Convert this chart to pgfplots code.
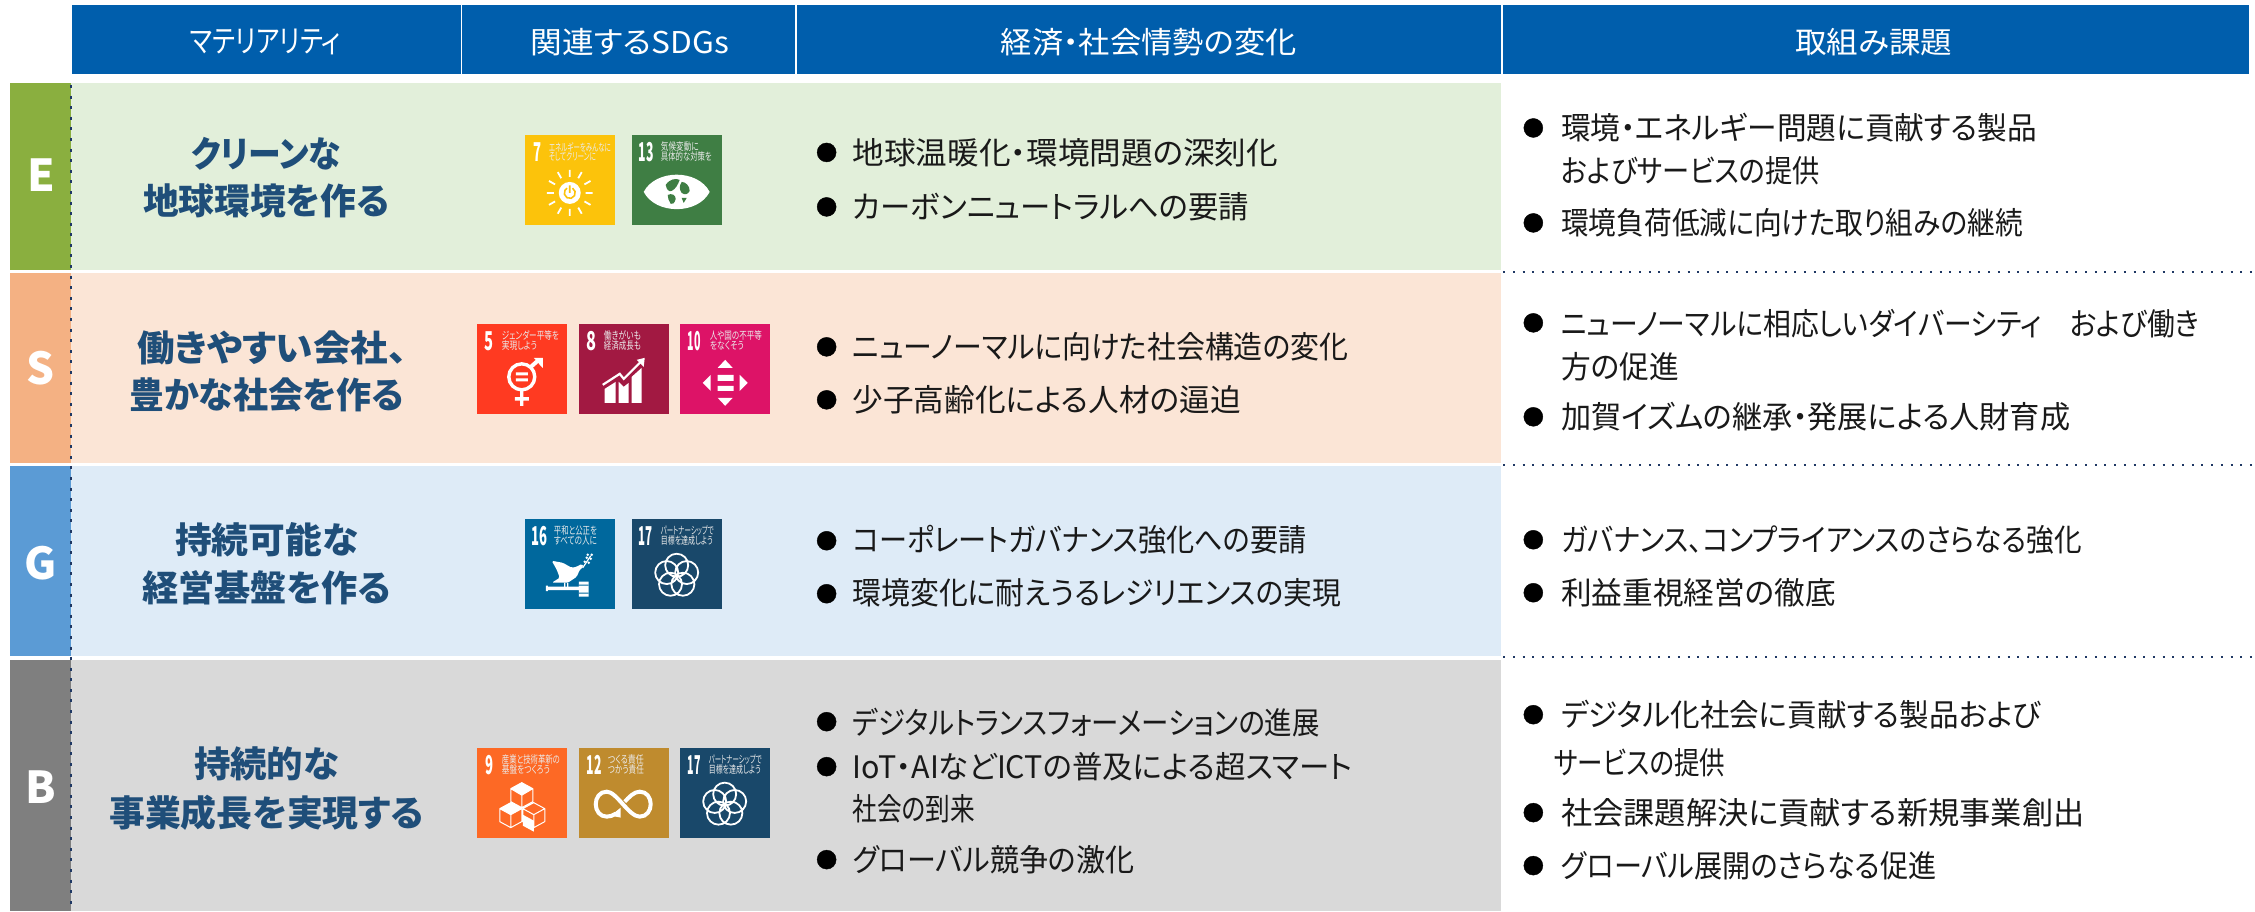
\documentclass[border=0pt]{standalone}
\usepackage{fontspec}
\usepackage{graphicx}
\usepackage{pgfplots}
\pgfplotsset{compat=1.18}
\setmainfont[RawFeature=+palt]{Noto Sans CJK JP}
\definecolor{hdr}{HTML}{005EAC}
\definecolor{navy}{HTML}{1F4E79}
\definecolor{dotc}{HTML}{1F3864}
\definecolor{cE}{HTML}{E2EFDA}\definecolor{cS}{HTML}{FBE5D6}\definecolor{cG}{HTML}{DEEBF7}\definecolor{cB}{HTML}{D9D9D9}
\definecolor{tE}{HTML}{8AAF3F}\definecolor{tS}{HTML}{F4B183}\definecolor{tG}{HTML}{5B9BD5}\definecolor{tB}{HTML}{7F7F7F}
\definecolor{s7}{HTML}{FCC30B}\definecolor{s13}{HTML}{3F7E44}\definecolor{s5}{HTML}{FF3A21}\definecolor{s8}{HTML}{A21942}
\definecolor{s10}{HTML}{DD1367}\definecolor{s16}{HTML}{00689D}\definecolor{s17}{HTML}{19486A}\definecolor{s9}{HTML}{FD6925}\definecolor{s12}{HTML}{BF8B2E}
\newsavebox\fitbox
\newcommand\fit[2]{\sbox\fitbox{#2}\pgfmathsetmacro\fitr{(#1)/(\wd\fitbox)}\scalebox{\fitr}[1]{\usebox\fitbox}}
\newcommand\sz[1]{\fontsize{#1}{#1}\selectfont}
\tikzset{ic/.style n args={2}{shift={(axis cs:#1,#2)},x=1pt,y=-1pt}}
\newcommand\R[5]{\addplot[fill=#5,draw=none,mark=none,forget plot] coordinates {(#1,#2)(#3,#2)(#3,#4)(#1,#4)} -- cycle;}
\newcommand\T[4]{\node[anchor=west,inner sep=0pt,text=black!90] at (axis cs:#1*1.4381,#3*1.4392) {\sz{31}\fit{(#2-#1)*1.4381}{#4}};}
\newcommand\C[6]{\node[anchor=west,inner sep=0pt,text=#5] at (axis cs:#1,#3) {\sz{#4}\fit{#2-#1}{#6}};}
\newcommand\Num[5]{\node[anchor=west,inner sep=0pt,text=white] at (axis cs:#1+#3,#2+17.5) {\sz{26}\bfseries\fit{#4-#3}{#5}};}
\newcommand\Lab[7]{\node[anchor=west,inner sep=0pt,text=white!92!black] at (axis cs:#1+#3,#2+12) {\sz{10.5}\fit{#4}{#6}};
 \node[anchor=west,inner sep=0pt,text=white!92!black] at (axis cs:#1+#3,#2+22) {\sz{10.5}\fit{#5}{#7}};}
\newcommand\gFlower[2]{\draw[ic={#1}{#2},white,line width=1.8pt] (45,46.5) circle[radius=11.5] (55,53.8) circle[radius=11.5] (51.2,65.5) circle[radius=11.5] (38.8,65.5) circle[radius=11.5] (35,53.8) circle[radius=11.5];}
\begin{document}
\begin{tikzpicture}
\begin{axis}[scale only axis,width=2255pt,height=911pt,hide axis,
  xmin=0,xmax=2255,ymin=0,ymax=911,y dir=reverse,clip=false]
\R{0}{0}{2255}{911}{white}
% header
\R{72}{5}{461}{74}{hdr}
\R{462.5}{5}{795}{74}{hdr}
\R{797}{5}{1502}{74}{hdr}
\R{1504}{5}{2250}{74}{hdr}
% bands
\R{71}{83}{1502}{270}{cE}
\R{71}{273}{1502}{463}{cS}
\R{71}{466}{1502}{656}{cG}
\R{71}{660}{1502}{911}{cB}
% tabs
\R{10.5}{83}{71}{270}{tE}
\R{10.5}{273}{71}{463}{tS}
\R{10.5}{466}{71}{656}{tG}
\R{10.5}{660}{71}{911}{tB}
% dotted lines
\addplot[dotc,line width=2pt,dash pattern=on 2pt off 7.7pt,mark=none,forget plot] coordinates {(1504,272)(2255,272)};
\addplot[dotc,line width=2pt,dash pattern=on 2pt off 7.7pt,mark=none,forget plot] coordinates {(1504,465)(2255,465)};
\addplot[dotc,line width=2pt,dash pattern=on 2pt off 7.7pt,mark=none,forget plot] coordinates {(1504,657)(2255,657)};
\addplot[dotc,line width=2pt,dash pattern=on 3pt off 7.6pt,mark=none,forget plot] coordinates {(71,85)(71,911)};
% bullets
\addplot[only marks,mark=*,mark size=9.5pt,mark options={fill=black,draw=none},forget plot] coordinates {
 (827,152.5)(827,207)(827,347)(827,400)(827,541)(827,594)(827,722)(827,767)(827,860)
 (1534,128)(1534,223)(1534,323)(1534,417)(1534,540)(1534,593)(1534,715)(1534,813)(1534,866)};
% header text
\C{190}{341}{42}{31}{white}{マテリアリティ}
\C{531}{729}{42}{30}{white}{関連するSDGs}
\C{1001}{1297}{42}{30}{white}{経済・社会情勢の変化}
\C{1796}{1953}{42}{30}{white}{取組み課題}
% tab letters
\node[text=white] at (axis cs:41,175) {\sz{44}\bfseries E};
\node[text=white] at (axis cs:41,368) {\sz{44}\bfseries S};
\node[text=white] at (axis cs:41,563) {\sz{44}\bfseries G};
\node[text=white] at (axis cs:41,787) {\sz{44}\bfseries B};
% materiality
\C{191}{341}{153.5}{36}{navy}{\bfseries クリーンな}
\C{143}{389}{200.5}{36}{navy}{\bfseries 地球環境を作る}
\C{137}{407}{348.5}{36}{navy}{\bfseries 働きやすい会社、}
\C{129}{404}{395.5}{36}{navy}{\bfseries 豊かな社会を作る}
\C{175}{358}{539.5}{36}{navy}{\bfseries 持続可能な}
\C{142}{391}{588.5}{36}{navy}{\bfseries 経営基盤を作る}
\C{194}{339}{764.5}{36}{navy}{\bfseries 持続的な}
\C{109}{424}{813.5}{36}{navy}{\bfseries 事業成長を実現する}
% column 3
\T{593}{889}{106}{地球温暖化・環境問題の深刻化}
\T{593}{869}{144}{カーボンニュートラルへの要請}
\T{593}{938}{241}{ニューノーマルに向けた社会構造の変化}
\T{593}{863}{278}{少子高齢化による人材の逼迫}
\T{593}{909}{375}{コーポレートガバナンス強化への要請}
\T{593}{933}{412}{環境変化に耐えうるレジリエンスの実現}
\T{593}{918}{502}{デジタルトランスフォーメーションの進展}
\T{593}{941}{533}{IoT・AIなどICTの普及による超スマート}
\T{593}{678}{562}{社会の到来}
\T{593}{789}{598}{グローバル競争の激化}
% column 4
\T{1086}{1417}{89}{環境・エネルギー問題に貢献する製品}
\T{1086}{1266}{119}{およびサービスの提供}
\T{1086}{1407}{155}{環境負荷低減に向けた取り組みの継続}
\T{1086}{1530}{225}{ニューノーマルに相応しいダイバーシティ　および働き}
\T{1086}{1168}{255}{方の促進}
\T{1086}{1440}{290}{加賀イズムの継承・発展による人財育成}
\T{1086}{1448}{375}{ガバナンス、コンプライアンスのさらなる強化}
\T{1086}{1277}{412}{利益重視経営の徹底}
\T{1086}{1420}{497}{デジタル化社会に貢献する製品および}
\T{1081}{1200}{530}{サービスの提供}
\T{1086}{1450}{565}{社会課題解決に貢献する新規事業創出}
\T{1086}{1347}{602}{グローバル展開のさらなる促進}
% ---------- icon 7 ----------
\R{525}{135}{615}{225}{s7}
\Num{525}{135}{9}{17}{7}
\Lab{525}{135}{24}{62}{47}{エネルギーをみんなに}{そしてクリーンに}
\fill[ic={525}{135},white] (45,58) circle[radius=11];
\draw[ic={525}{135},s7,line width=1.6pt] (47.75,53.24) arc[start angle=-60,end angle=240,radius=5.5] (45,50.5)--(45,58);
\draw[ic={525}{135},white,line width=1.8pt] (61,58)--(68,58) (59.7,49.5)--(65.8,46) (53.5,43.3)--(57,37.2) (45,42)--(45,35) (36.5,43.3)--(33,37.2) (30.3,49.5)--(24.2,46) (29,58)--(22,58) (30.3,66.5)--(24.2,70) (36.5,72.7)--(33,78.8) (45,74)--(45,81) (53.5,72.7)--(57,78.8) (59.7,66.5)--(65.8,70);
% ---------- icon 13 ----------
\R{632}{135}{722}{225}{s13}
\Num{632}{135}{7}{22}{13}
\Lab{632}{135}{29}{38}{51}{気候変動に}{具体的な対策を}
\fill[ic={632}{135},white] (12,57) .. controls (24,34) and (66,34) .. (78,57) .. controls (66,80) and (24,80) .. (12,57) -- cycle;
\fill[ic={632}{135},s13] (34,50) .. controls (38,44) and (44,43) .. (48,45) .. controls (46,50) and (44,54) .. (40,56) .. controls (37,57) and (35,55) .. (34,50) -- cycle
 (36,60) .. controls (40,58) and (44,60) .. (44,64) .. controls (43,68) and (41,70) .. (39,69) .. controls (37,66) and (36,63) .. (36,60) -- cycle
 (50,47) .. controls (54,47) and (58,51) .. (58,56) .. controls (56,60) and (53,60) .. (50,58) .. controls (47,54) and (48,50) .. (50,47) -- cycle
 (50,63) -- (55,63) -- (52,68) -- cycle;
% ---------- icon 5 ----------
\R{477}{324}{567}{414}{s5}
\Num{477}{324}{8}{17}{5}
\Lab{477}{324}{25}{57}{35}{ジェンダー平等を}{実現しよう}
\draw[ic={477}{324},white,line width=3.4pt] (45,53) circle[radius=13] (45,67)--(45,82) (38,75)--(52,75);
\draw[ic={477}{324},white,line width=4pt] (53,44)--(62,36);
\fill[ic={477}{324},white] (57,34) -- (66,34) -- (66,44) -- (63,41) -- (60,37) -- cycle;
\fill[ic={477}{324},white] (39,48.5) rectangle (51,51.5) (39,54.5) rectangle (51,57.5);
% ---------- icon 8 ----------
\R{579}{324}{669}{414}{s8}
\Num{579}{324}{8}{18}{8}
\Lab{579}{324}{25}{37}{37}{働きがいも}{経済成長も}
\fill[ic={579}{324},white] (26,79) -- (26,65) -- (37,58) -- (37,79) -- cycle (40,79) -- (40,58) -- (45,63) -- (50,59) -- (50,79) -- cycle (53,79) -- (53,53) -- (63,44) -- (63,79) -- cycle;
\draw[ic={579}{324},s8,line width=4.5pt] (24,61)--(41,50)--(45,55)--(63,37);
\draw[ic={579}{324},white,line width=2.2pt] (24,61)--(41,50)--(45,55)--(63,37);
\fill[ic={579}{324},white] (58,36) -- (66,34) -- (65,43) -- cycle;
% ---------- icon 10 ----------
\R{680}{324}{770}{414}{s10}
\Num{680}{324}{8}{21}{10}
\Lab{680}{324}{30}{52}{34}{人や国の不平等}{をなくそう}
\fill[ic={680}{324},white] (45.5,36) -- (53,44) -- (38,44) -- cycle (45.5,82) -- (53,74) -- (38,74) -- cycle (23,59) -- (31,51) -- (31,67) -- cycle (68,59) -- (60,51) -- (60,67) -- cycle (38,51) rectangle (54,57) (38,62) rectangle (54,67);
% ---------- icon 16 ----------
\R{525}{519}{615}{609}{s16}
\Num{525}{519}{7}{23}{16}
\Lab{525}{519}{29}{43}{43}{平和と公正を}{すべての人に}
\fill[ic={525}{519},white,rounded corners=1.5pt] (27,42) -- (38,44) -- (47,49) -- (52,48) -- (57,45) -- (59,48) -- (55,51) -- (52,58) -- (43,64) -- (27,64) -- (35,59) -- (32,51) -- cycle;
\draw[ic={525}{519},white,line width=1.2pt] (40,64)--(40,69) (43,64)--(43,69) (58,49)--(66,37);
\fill[ic={525}{519},white] (60,43) circle[radius=1.4] (64,44) circle[radius=1.4] (62,39) circle[radius=1.4] (66,40) circle[radius=1.4] (67,36) circle[radius=1.4] (63,36) circle[radius=1.4];
\fill[ic={525}{519},white] (22,68) rectangle (54,71.5) (21,67) rectangle (23,72.5) (54,63) rectangle (64,78);
\fill[ic={525}{519},s16] (54,66) rectangle (64,67) (54,74) rectangle (64,75);
% ---------- icon 17 (G) ----------
\R{632}{519}{722}{609}{s17}
\Num{632}{519}{7}{21}{17}
\Lab{632}{519}{29}{53}{52}{パートナーシップで}{目標を達成しよう}
\gFlower{632}{519}
% ---------- icon 9 ----------
\R{477}{748}{567}{838}{s9}
\Num{477}{748}{9}{17}{9}
\Lab{477}{748}{25}{58}{48}{産業と技術革新の}{基盤をつくろう}
\fill[ic={477}{748},white] (45,35) -- (56,41) -- (45,47.5) -- (34,41) -- cycle (34,55) -- (45,61) -- (34,67) -- (23,61) -- cycle (46,67) -- (57,73) -- (57,84) -- (46,78) -- cycle;
\draw[ic={477}{748},white,line width=1pt,line join=round] (45,35)--(56,41)--(56,54)--(45,60)--(34,54)--(34,41)--cycle (34,41)--(45,47.5)--(56,41) (45,47.5)--(45,60)
 (34,55)--(45,61)--(45,74)--(34,80)--(23,74)--(23,61)--cycle (23,61)--(34,67)--(45,61) (34,67)--(34,80)
 (57,55)--(68,61)--(68,74)--(57,80)--(46,74)--(46,61)--cycle (46,61)--(57,67)--(68,61) (57,67)--(57,80);
% ---------- icon 12 ----------
\R{579}{748}{669}{838}{s12}
\Num{579}{748}{8}{23}{12}
\Lab{579}{748}{29}{36}{36}{つくる責任}{つかう責任}
\draw[ic={579}{748},white,line width=4pt] (37,66) .. controls (34,68) and (31,69) .. (28,69) .. controls (21,69) and (17,63) .. (17,56.5) .. controls (17,50) and (21,44) .. (28,44) .. controls (38,44) and (50,69) .. (61,69) .. controls (68,69) and (72,63) .. (72,56.5) .. controls (72,50) and (68,44) .. (61,44) .. controls (55,44) and (50,50) .. (46,54);
\fill[ic={579}{748},white] (42,60) -- (42,70) -- (32,68) -- cycle;
% ---------- icon 17 (B) ----------
\R{680}{748}{770}{838}{s17}
\Num{680}{748}{8}{21}{17}
\Lab{680}{748}{29}{53}{52}{パートナーシップで}{目標を達成しよう}
\gFlower{680}{748}
\end{axis}
\end{tikzpicture}
\end{document}
